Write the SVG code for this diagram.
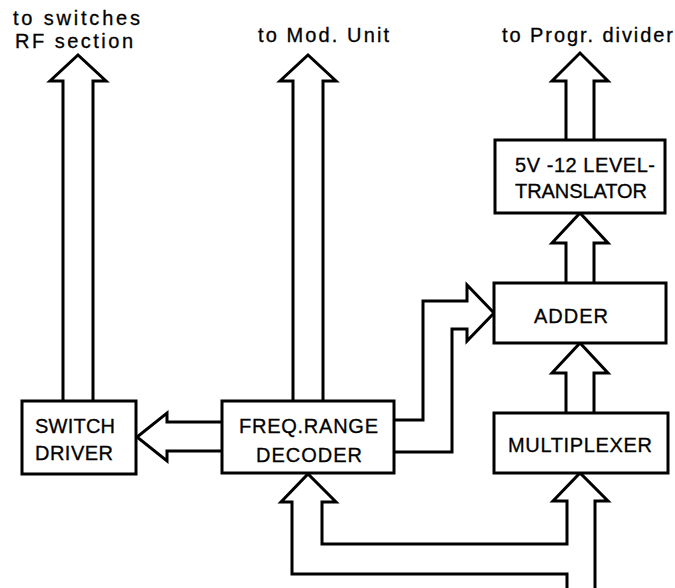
<svg xmlns="http://www.w3.org/2000/svg" width="675" height="588" viewBox="0 0 675 588">
<style>
.box{fill:#fff;stroke:#000;stroke-width:3}
.bus{fill:#fff;stroke:#000;stroke-width:3;stroke-linejoin:miter;stroke-miterlimit:10}
text{font-family:"Liberation Sans",Arial,sans-serif;font-size:20px;fill:#000;stroke:#000;stroke-width:0.3}
.c{text-anchor:middle}
</style>
<rect width="675" height="588" fill="#fff"/>
<g id="connectors">
<polyline class="bus" points="63,401 63,81 50,81 78,55 106,81 93,81 93,401"/>
<polyline class="bus" points="293,401 293,81 280,81 308,55 336,81 323,81 323,401"/>
<polyline class="bus" points="566,140 566,81 552,81 580,53 608,81 594,81 594,140"/>
<polyline class="bus" points="566,283 566,243 552,243 580,213 608,243 594,243 594,283"/>
<polyline class="bus" points="566,413 566,373 552,373 580,343 608,373 594,373 594,413"/>
<polyline class="bus" points="222,422 167,422 167,413 137,437 167,461 167,451 222,451"/>
<polyline class="bus" points="394,420 423,420 423,301 467,301 467,285 494,313 467,341 467,329 452,329 452,452 394,452"/>
<polyline class="bus" points="567,592 567,574 292,574 292,502 281,502 308,474 336,502 322,502 322,544 567,544 567,501 553,501 580,473 608,501 595,501 595,592"/>
</g>
<g id="labels">
<text x="13" y="25" textLength="127" lengthAdjust="spacing">to switches</text>
<text x="15" y="48" textLength="118" lengthAdjust="spacing">RF section</text>
<text x="258" y="42" textLength="131" lengthAdjust="spacing">to Mod. Unit</text>
<text x="502" y="42" textLength="171" lengthAdjust="spacing">to Progr. divider</text>
</g>
<g id="switch-driver">
<rect class="box" x="22" y="401" width="114" height="73"/>
<text class="c" x="75" y="433" textLength="80" lengthAdjust="spacing">SWITCH</text>
<text class="c" x="74" y="460" textLength="78" lengthAdjust="spacing">DRIVER</text>
</g>
<g id="freq-range-decoder">
<rect class="box" x="222" y="401" width="172" height="72"/>
<text class="c" x="308.5" y="433" textLength="139" lengthAdjust="spacing">FREQ.RANGE</text>
<text class="c" x="309" y="462" textLength="106" lengthAdjust="spacing">DECODER</text>
</g>
<g id="level-translator">
<rect class="box" x="495" y="140" width="170" height="73"/>
<text class="c" x="585" y="172" textLength="140" lengthAdjust="spacing">5V -12 LEVEL-</text>
<text class="c" x="581" y="198" textLength="132" lengthAdjust="spacing">TRANSLATOR</text>
</g>
<g id="adder">
<rect class="box" x="494" y="283" width="172" height="60"/>
<text class="c" x="571" y="323" textLength="74" lengthAdjust="spacing">ADDER</text>
</g>
<g id="multiplexer">
<rect class="box" x="494" y="413" width="174" height="60"/>
<text class="c" x="580" y="452" textLength="144" lengthAdjust="spacing">MULTIPLEXER</text>
</g>
</svg>
